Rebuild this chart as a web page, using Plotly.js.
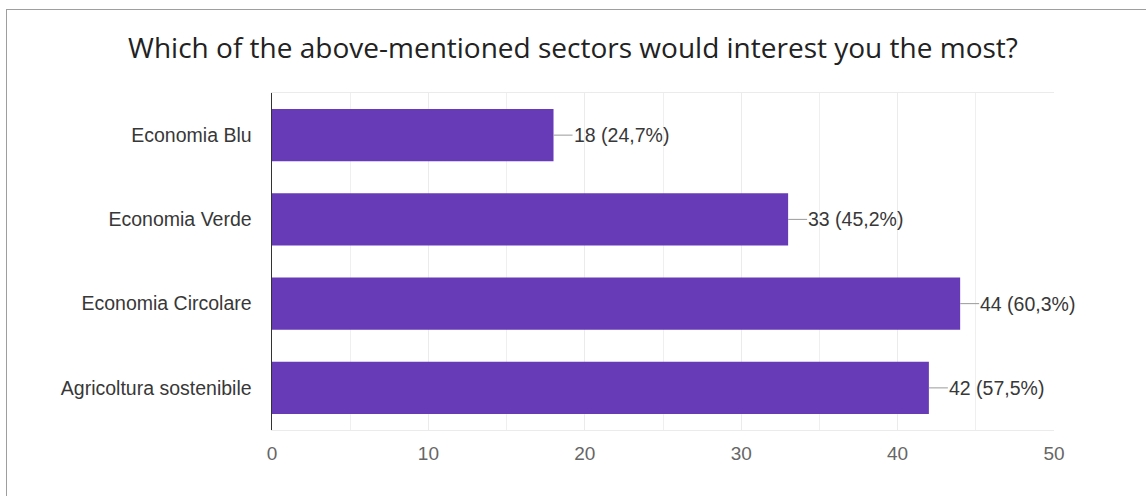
<!DOCTYPE html>
<html>
<head>
<meta charset="utf-8">
<script src="https://cdn.plot.ly/plotly-3.0.1.min.js"></script>
<style>
  html, body { margin: 0; padding: 0; background: #fff; }
  #wrap { position: relative; width: 1146px; height: 496px; }
  #chart { width: 1146px; height: 496px; }
  #frame { position: absolute; left: 6px; top: 9px; width: 1160px; height: 500px;
           border-top: 1px solid #9e9e9e; border-left: 1px solid #9e9e9e; pointer-events: none; }
</style>
</head>
<body>
<div id="wrap">
  <div id="chart"></div>
  <div id="frame"></div>
</div>
<script>
const categories = ["Economia Blu", "Economia Verde", "Economia Circolare", "Agricoltura sostenibile"];
const counts = [18, 33, 44, 42];
const percents = [24.7, 45.2, 60.3, 57.5];
const xTicks = [0, 10, 20, 30, 40, 50];
const titleText = "Which of the above-mentioned sectors would interest you the most?";

const labelFont = { family: "Liberation Sans, Arial, sans-serif", size: 19.5, color: "#383838" };

const trace = {
  type: "bar",
  orientation: "h",
  y: categories,
  x: counts,
  marker: { color: "#673ab7", line: { width: 0 } },
  hoverinfo: "none"
};

const annotations = categories.map((c, i) => ({
  x: counts[i],
  y: c,
  xref: "x",
  yref: "y",
  text: counts[i] + " (" + percents[i].toFixed(1).replace(".", ",") + "%)",
  showarrow: true,
  arrowhead: 0,
  arrowwidth: 1,
  arrowcolor: "#9a9a9a",
  ax: 19,
  ay: 0,
  xanchor: "left",
  yanchor: "middle",
  borderpad: 0,
  font: labelFont
}));

const layout = {
  width: 1146,
  height: 496,
  margin: { l: 272, r: 92, t: 93, b: 66 },
  paper_bgcolor: "#ffffff",
  plot_bgcolor: "#ffffff",
  showlegend: false,
  bargap: 0.38,
  title: {
    text: titleText,
    x: 0.5,
    xref: "container",
    y: 1 - 48 / 496,
    yref: "container",
    yanchor: "middle",
    font: { family: "Open Sans, Noto Sans, sans-serif", size: 28, color: "#222222" }
  },
  xaxis: {
    range: [0, 50],
    tickvals: xTicks,
    ticktext: xTicks.map(String),
    showgrid: true,
    gridcolor: "#ebebeb",
    gridwidth: 1,
    minor: { dtick: 5, tick0: 0, showgrid: true, gridcolor: "#efefef", gridwidth: 1 },
    zeroline: false,
    showline: true,
    mirror: true,
    linecolor: "#ebebeb",
    linewidth: 1,
    ticks: "",
    ticklabelstandoff: 6,
    tickfont: { family: "Liberation Sans, Arial, sans-serif", size: 19, color: "#666666" },
    fixedrange: true
  },
  yaxis: {
    type: "category",
    autorange: "reversed",
    showgrid: false,
    zeroline: false,
    showline: true,
    mirror: false,
    linecolor: "#333333",
    linewidth: 1.5,
    ticks: "",
    ticklabelstandoff: 15,
    tickfont: labelFont,
    fixedrange: true
  },
  annotations: annotations
};

Plotly.newPlot("chart", [trace], layout, { displayModeBar: false, staticPlot: true });
</script>
</body>
</html>
